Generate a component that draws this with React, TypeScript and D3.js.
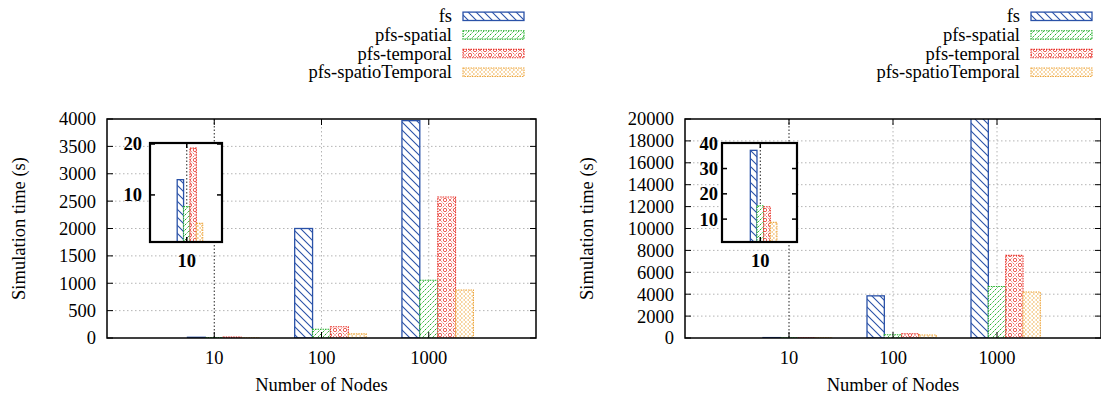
import React from "react";
import * as d3 from "d3";

const categories = ["10", "100", "1000"];
const seriesNames = ["fs", "pfs-spatial", "pfs-temporal", "pfs-spatioTemporal"];
const seriesColors = ["#2a52a8", "#22b02a", "#e8322a", "#eda53a"];
const patternIds = ["pFs", "pSpatial", "pTemporal", "pSpatioTemporal"];

// left panel, simulation time (s) per number of nodes
const leftFs = [13, 2000, 3970];
const leftSpatial = [7.7, 160, 1055];
const leftTemporal = [19.2, 205, 2575];
const leftSpatioTemporal = [4.4, 75, 877];

// right panel
const rightFs = [37.2, 3850, 21000];
const rightSpatial = [15.3, 300, 4700];
const rightTemporal = [14.9, 390, 7550];
const rightSpatioTemporal = [8.7, 270, 4200];

const leftYTicks = d3.range(0, 4001, 500);
const rightYTicks = d3.range(0, 20001, 2000);
const leftInsetTicks = [10, 20];
const rightInsetTicks = [10, 20, 30, 40];

const FONT = "Liberation Serif, serif";
const FS = 18.5;
const TOP = 119;
const BOTTOM = 338;
const BAR = 1 / 6;

type InsetCfg = {
  x0: number;
  x1: number;
  yDomain: [number, number];
  ticks: number[];
  labelGap: number;
};

type PanelProps = {
  id: string;
  x0: number;
  x1: number;
  yMax: number;
  yTicks: number[];
  values: number[][];
  inset: InsetCfg;
  legendRight: number;
  yLabelX: number;
};

const Patterns = () => (
  <defs>
    <pattern id="pFs" patternUnits="userSpaceOnUse" width={8} height={8}>
      <rect width={8} height={8} fill="#fff" />
      <path d="M0,0 L8,8 M-4,4 L4,12 M4,-4 L12,4" stroke={seriesColors[0]} strokeWidth={1.1} />
    </pattern>
    <pattern id="pSpatial" patternUnits="userSpaceOnUse" width={5} height={5}>
      <rect width={5} height={5} fill="#fff" />
      <path d="M0,5 L5,0 M-2.5,2.5 L2.5,-2.5 M2.5,7.5 L7.5,2.5" stroke={seriesColors[1]} strokeWidth={1} strokeDasharray="1.4,0.8" />
    </pattern>
    <pattern id="pTemporal" patternUnits="userSpaceOnUse" width={10} height={10}>
      <rect width={10} height={10} fill="#fff" />
      <path d="M0,0 L10,10 M0,10 L10,0" stroke={seriesColors[2]} strokeWidth={1} strokeDasharray="1,1.2" />
      <circle cx={5} cy={0} r={1.7} fill="none" stroke={seriesColors[2]} strokeWidth={0.8} />
      <circle cx={5} cy={10} r={1.7} fill="none" stroke={seriesColors[2]} strokeWidth={0.8} />
      <circle cx={0} cy={5} r={1.7} fill="none" stroke={seriesColors[2]} strokeWidth={0.8} />
      <circle cx={10} cy={5} r={1.7} fill="none" stroke={seriesColors[2]} strokeWidth={0.8} />
    </pattern>
    <pattern id="pSpatioTemporal" patternUnits="userSpaceOnUse" width={4} height={4}>
      <rect width={4} height={4} fill="#fff" />
      <path d="M0,0 L4,4 M0,4 L4,0" stroke={seriesColors[3]} strokeWidth={0.7} strokeDasharray="1,0.8" />
    </pattern>
  </defs>
);

const barStroke = (i: number) => ({
  stroke: seriesColors[i],
  strokeWidth: i === 0 ? 1.3 : 1.1,
  strokeDasharray: i === 0 ? undefined : "1.5,1",
});

const Panel = ({ id, x0, x1, yMax, yTicks, values, inset, legendRight, yLabelX }: PanelProps) => {
  const x = d3.scaleLinear().domain([-1, 3]).range([x0, x1]);
  const y = d3.scaleLinear().domain([0, yMax]).range([BOTTOM, TOP]);
  const bw = x(BAR) - x(0);

  const ix = d3.scaleLinear().domain([-0.96, 0.92]).range([inset.x0, inset.x1]);
  const iy = d3.scaleLinear().domain(inset.yDomain).range([242, 143]);
  const ibw = ix(BAR) - ix(0);
  const iTop = iy(inset.yDomain[1]);
  const iBot = iy(inset.yDomain[0]);

  return (
    <g style={{ fontFamily: FONT, fontSize: FS }}>
      <defs>
        <clipPath id={`${id}-clip`}>
          <rect x={x0} y={TOP} width={x1 - x0} height={BOTTOM - TOP} />
        </clipPath>
        <clipPath id={`${id}-iclip`}>
          <rect x={inset.x0} y={iTop} width={inset.x1 - inset.x0} height={iBot - iTop} />
        </clipPath>
      </defs>

      {/* grid */}
      {yTicks.slice(1, -1).map((t) => (
        <line key={`g${t}`} x1={x0} x2={x1} y1={y(t)} y2={y(t)} stroke="#b4b4b4" strokeDasharray="1.5,2.5" />
      ))}
      {[1, 2].map((c) => (
        <line key={`v${c}`} x1={x(c)} x2={x(c)} y1={TOP} y2={BOTTOM} stroke="#b4b4b4" strokeDasharray="1.5,2.5" />
      ))}
      <line x1={x(0)} x2={x(0)} y1={TOP} y2={BOTTOM} stroke="#222" strokeDasharray="1.5,2" />

      {/* bars */}
      <g clipPath={`url(#${id}-clip)`}>
        {values.map((vals, s) =>
          vals.map((v, c) => (
            <rect
              key={`b${s}-${c}`}
              x={x(c) + (s - 1.5) * bw}
              y={y(v)}
              width={bw}
              height={BOTTOM - y(v)}
              fill={`url(#${patternIds[s]})`}
              {...barStroke(s)}
            />
          ))
        )}
      </g>

      {/* border + ticks */}
      <rect x={x0} y={TOP} width={x1 - x0} height={BOTTOM - TOP} fill="none" stroke="#000" strokeWidth={1.5} />
      {yTicks.map((t) => (
        <g key={`yt${t}`}>
          <line x1={x0} x2={x0 + 6} y1={y(t)} y2={y(t)} stroke="#000" />
          <line x1={x1 - 6} x2={x1} y1={y(t)} y2={y(t)} stroke="#000" />
          <text x={x0 - 11} y={y(t)} dy="0.35em" textAnchor="end">
            {t}
          </text>
        </g>
      ))}
      {categories.map((cat, c) => (
        <g key={`xt${cat}`}>
          <line x1={x(c)} x2={x(c)} y1={TOP} y2={TOP + 6} stroke="#000" />
          <line x1={x(c)} x2={x(c)} y1={BOTTOM - 6} y2={BOTTOM} stroke="#000" />
          <text x={x(c)} y={363.5} textAnchor="middle">
            {cat}
          </text>
        </g>
      ))}

      {/* inset */}
      <rect x={inset.x0} y={iTop} width={inset.x1 - inset.x0} height={iBot - iTop} fill="#fff" />
      <line x1={ix(0)} x2={ix(0)} y1={iTop} y2={iBot} stroke="#222" strokeDasharray="1.5,2" />
      <g clipPath={`url(#${id}-iclip)`}>
        {values.map((vals, s) => (
          <rect
            key={`ib${s}`}
            x={ix(0) + (s - 1.5) * ibw}
            y={iy(vals[0])}
            width={ibw}
            height={iBot - iy(vals[0]) + 2}
            fill={`url(#${patternIds[s]})`}
            {...barStroke(s)}
          />
        ))}
      </g>
      <rect x={inset.x0} y={iTop} width={inset.x1 - inset.x0} height={iBot - iTop} fill="none" stroke="#000" strokeWidth={2.2} />
      {inset.ticks.map((t) => (
        <g key={`it${t}`}>
          <line x1={inset.x0} x2={inset.x0 + 5} y1={iy(t)} y2={iy(t)} stroke="#000" strokeWidth={1.5} />
          <line x1={inset.x1 - 5} x2={inset.x1} y1={iy(t)} y2={iy(t)} stroke="#000" strokeWidth={1.5} />
          <text x={inset.x0 - inset.labelGap} y={iy(t)} dy="0.35em" textAnchor="end" fontWeight="bold">
            {t}
          </text>
        </g>
      ))}
      <line x1={ix(0)} x2={ix(0)} y1={iTop} y2={iTop + 5} stroke="#000" strokeWidth={1.5} />
      <line x1={ix(0)} x2={ix(0)} y1={iBot - 5} y2={iBot} stroke="#000" strokeWidth={1.5} />
      <text x={ix(0)} y={267} textAnchor="middle" fontWeight="bold">
        {categories[0]}
      </text>

      {/* axis labels */}
      <text x={(x0 + x1) / 2} y={391} textAnchor="middle">
        Number of Nodes
      </text>
      <text
        transform={`translate(${yLabelX},${(TOP + BOTTOM) / 2}) rotate(-90)`}
        dy="0.35em"
        textAnchor="middle"
      >
        Simulation time (s)
      </text>

      {/* legend */}
      {seriesNames.map((name, s) => {
        const cy = 16.3 + s * 18.65;
        return (
          <g key={`lg${name}`}>
            <text x={legendRight - 72} y={cy} dy="0.33em" textAnchor="end">
              {name}
            </text>
            <rect
              x={legendRight - 61}
              y={cy - 4.2}
              width={61}
              height={8.4}
              fill={`url(#${patternIds[s]})`}
              {...barStroke(s)}
            />
          </g>
        );
      })}
    </g>
  );
};

export default function App() {
  return (
    <svg
      width={1101}
      height={399}
      style={{ position: "absolute", left: 0, top: 0, background: "#fff" }}
    >
      <Patterns />
      <Panel
        id="left"
        x0={107}
        x1={536}
        yMax={4000}
        yTicks={leftYTicks}
        values={[leftFs, leftSpatial, leftTemporal, leftSpatioTemporal]}
        inset={{ x0: 150, x1: 222, yDomain: [0.75, 20.2], ticks: leftInsetTicks, labelGap: 8 }}
        legendRight={524}
        yLabelX={19}
      />
      <Panel
        id="right"
        x0={685}
        x1={1101}
        yMax={20000}
        yTicks={rightYTicks}
        values={[rightFs, rightSpatial, rightTemporal, rightSpatioTemporal]}
        inset={{ x0: 722, x1: 797, yDomain: [0.95, 40.1], ticks: rightInsetTicks, labelGap: 4 }}
        legendRight={1092}
        yLabelX={587}
      />
    </svg>
  );
}
